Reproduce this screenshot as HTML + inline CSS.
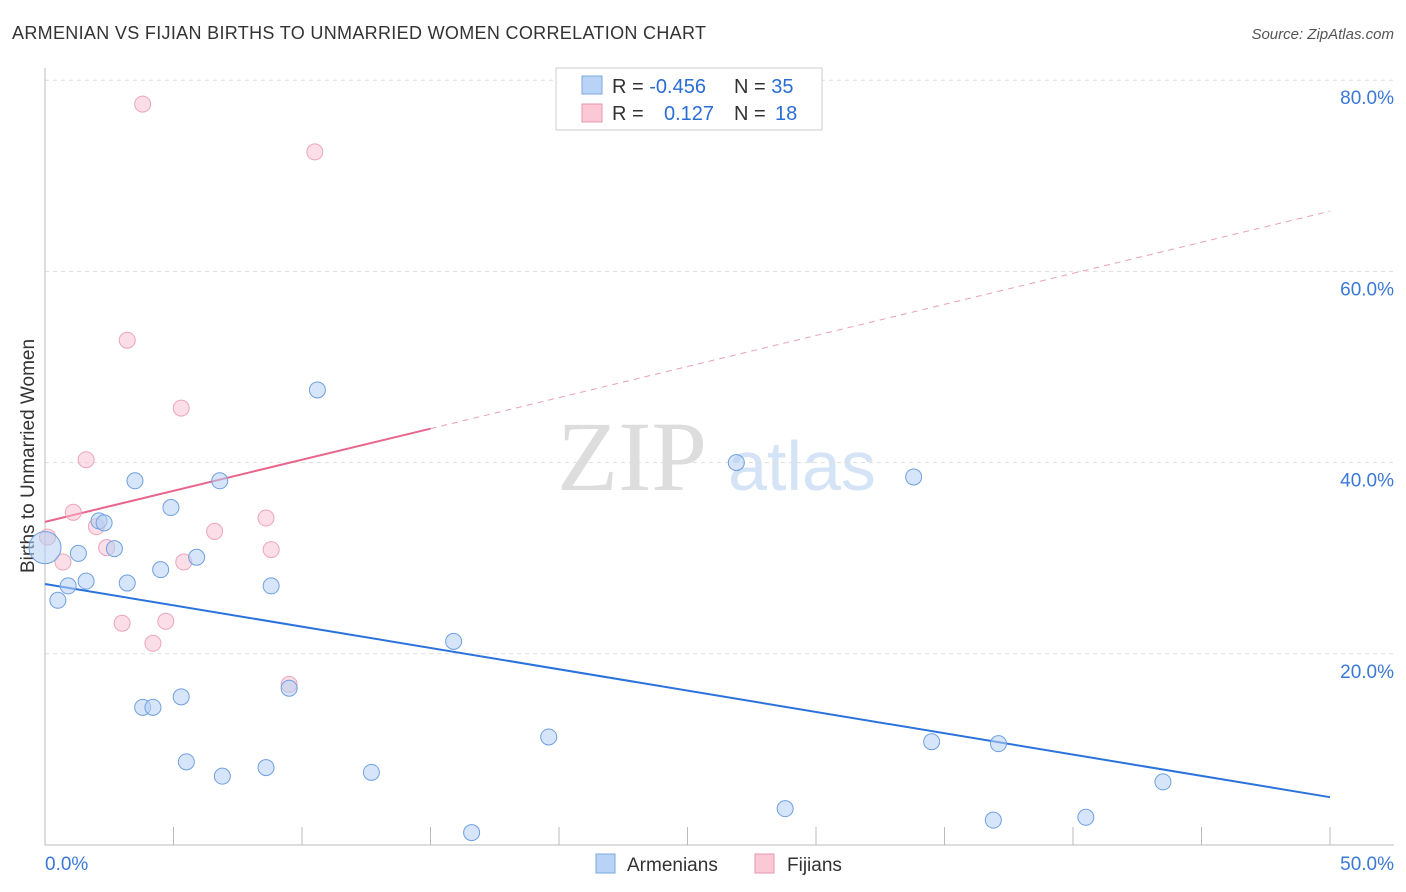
<!DOCTYPE html>
<html><head><meta charset="utf-8"><style>
body{margin:0;background:#fff;font-family:"Liberation Sans",sans-serif;}
#c{position:relative;width:1406px;height:892px;}
</style></head><body>
<div id="c">
<svg id="s" width="1406" height="892" xmlns="http://www.w3.org/2000/svg" style="position:absolute;left:0;top:0">
<text x="12" y="39" font-size="18" fill="#333" textLength="694">ARMENIAN VS FIJIAN BIRTHS TO UNMARRIED WOMEN CORRELATION CHART</text>
<text x="1394" y="39" font-size="15" fill="#555" text-anchor="end" font-style="italic">Source: ZipAtlas.com</text>
<text x="34" y="456" font-size="19" fill="#333" text-anchor="middle" transform="rotate(-90 34 456)">Births to Unmarried Women</text>
<text x="632" y="490" font-size="100" fill="#ddd" font-family="Liberation Serif,serif" text-anchor="middle">ZIP</text>
<text x="802" y="490" font-size="70" fill="#d4e3f5" text-anchor="middle">atlas</text>
<g id="grid"></g><g id="ticks"></g><g id="lines"></g><g id="pts"></g>
<rect x="556" y="68" width="266" height="62" fill="#fff" stroke="#ccc"/>
<rect x="582" y="76" width="20" height="18" fill="#b8d3f5" stroke="#7aa8e0"/>
<rect x="582" y="104" width="20" height="18" fill="#fbc8d6" stroke="#e895ad"/>
<text x="612" y="93" font-size="20" fill="#333">R = <tspan fill="#2a6dd4">-0.456</tspan></text>
<text x="734" y="93" font-size="20" fill="#333">N = <tspan fill="#2a6dd4">35</tspan></text>
<text x="612" y="120" font-size="20" fill="#333">R = <tspan fill="#2a6dd4" x="664">0.127</tspan></text>
<text x="734" y="120" font-size="20" fill="#333">N = <tspan fill="#2a6dd4" x="775">18</tspan></text>
<rect x="596" y="854" width="19" height="19" fill="#b8d3f5" stroke="#7aa8e0"/>
<text x="627" y="871" font-size="19" fill="#333">Armenians</text>
<rect x="755" y="854" width="19" height="19" fill="#fbc8d6" stroke="#e895ad"/>
<text x="787" y="871" font-size="19" fill="#333">Fijians</text>
<text x="45" y="870" font-size="19" fill="#3a78d8">0.0%</text>
<text x="1394" y="870" font-size="19" fill="#3a78d8" text-anchor="end">50.0%</text>
</svg></div>
<script>
const blueX=[0,0.5,0.9,1.3,1.6,2.1,2.3,2.7,3.2,3.5,3.8,4.2,4.5,4.9,5.3,5.5,5.9,6.8,6.9,8.6,8.8,9.5,10.6,12.7,15.9,16.6,19.6,26.9,28.8,33.8,34.5,36.9,37.1,40.5,43.5];
const blueY=[31.1,25.6,27.1,30.5,27.6,33.9,33.7,31.0,27.4,38.1,14.4,14.4,28.8,35.3,15.5,8.7,30.1,38.1,7.2,8.1,27.1,16.4,47.6,7.6,21.3,1.3,11.3,40.0,3.8,38.5,10.8,2.6,10.6,2.9,6.6];
const pinkX=[0.1,0.7,1.1,1.6,2.0,2.4,3.0,3.2,3.8,4.2,4.7,5.3,5.4,6.6,8.6,8.8,9.5,10.5];
const pinkY=[32.2,29.6,34.8,40.3,33.3,31.1,23.2,52.8,77.5,21.1,23.4,45.7,29.6,32.8,34.2,30.9,16.8,72.5];
const yTicks=[20,40,60,80];
const blueTrend=[27.3,5.0];
const pinkTrend=[33.8,66.3];
const pinkSolidEnd=15;
const X=v=>45+v*25.7, Y=v=>845-v*9.56;
const NS="http://www.w3.org/2000/svg";
function mk(t,a,p){const e=document.createElementNS(NS,t);for(const k in a)e.setAttribute(k,a[k]);document.getElementById(p).appendChild(e);return e;}
yTicks.forEach(t=>{
 const l=mk('line',{x1:45,x2:1394,y1:Y(t),y2:Y(t),stroke:'#ddd','stroke-dasharray':'4,4'},'grid');
 
 
 const tx=mk('text',{x:1394,y:Y(t)+24,'font-size':19,fill:'#3a78d8','text-anchor':'end'},'grid');
 tx.textContent=t.toFixed(1)+'%';
 
 
});
const ax=mk('line',{x1:45,x2:45,y1:68,y2:845,stroke:'#bbb'},'ticks');


const bx=mk('line',{x1:45,x2:1394,y1:845,y2:845,stroke:'#bbb'},'ticks');


for(let i=0;i<=10;i++){const t=mk('line',{x1:X(i*5),x2:X(i*5),y1:827,y2:845,stroke:'#bbb'},'ticks');
 
 }
const bl=mk('line',{x1:X(0),y1:Y(blueTrend[0]),x2:X(50),y2:Y(blueTrend[1]),stroke:'#2a72dc','stroke-width':2},'lines');


const pAt=v=>pinkTrend[0]+(pinkTrend[1]-pinkTrend[0])*v/50;
const pl=mk('line',{x1:X(0),y1:Y(pAt(0)),x2:X(pinkSolidEnd),y2:Y(pAt(pinkSolidEnd)),stroke:'#e8668e','stroke-width':2},'lines');


const pd=mk('line',{x1:X(pinkSolidEnd),y1:Y(pAt(pinkSolidEnd)),x2:X(50),y2:Y(pAt(50)),stroke:'#e8a0b6','stroke-width':1,'stroke-dasharray':'6,5'},'lines');


pinkX.forEach((x,i)=>{const c=mk('circle',{cx:X(x),cy:Y(pinkY[i]),r:8,fill:'rgba(248,190,207,0.5)',stroke:'#eba5ba','stroke-width':1},'pts');
 
 });
blueX.forEach((x,i)=>{const c=mk('circle',{cx:X(x),cy:Y(blueY[i]),r:i==0?16:8,fill:'rgba(180,208,244,0.55)',stroke:'#6fa0e0','stroke-width':1},'pts');
 
 });
</script>
</body></html>
